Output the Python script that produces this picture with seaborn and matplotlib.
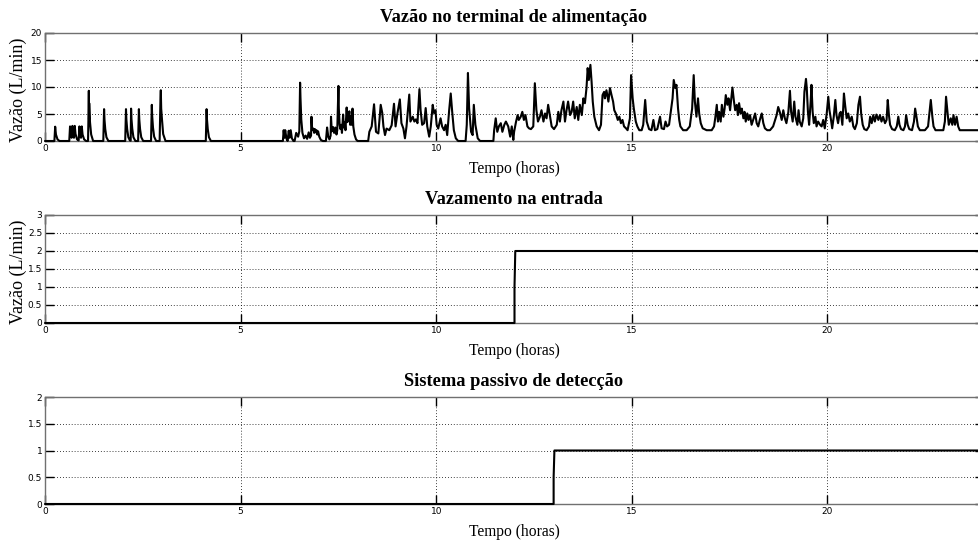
import matplotlib
matplotlib.use("Agg")
import matplotlib.pyplot as plt
from matplotlib.ticker import FormatStrFormatter
import pandas as pd
import seaborn as sns

# ---------------- data ----------------
# Flow at the supply terminal, hours / L/min, split by period of the day
t_night = [0.00, 0.24, 0.26, 0.28, 0.32, 0.37,
           0.62, 0.64, 0.66, 0.68, 0.70, 0.72, 0.74, 0.76, 0.78, 0.82, 0.86, 0.88, 0.90, 0.92, 0.94, 0.96, 1.00, 1.05,
           1.10, 1.115, 1.12, 1.125, 1.13, 1.15, 1.18, 1.23,
           1.49, 1.50, 1.51, 1.52, 1.54, 1.57, 1.62,
           2.05, 2.06, 2.07, 2.08, 2.10, 2.13, 2.17,
           2.19, 2.20, 2.21, 2.23, 2.26, 2.31,
           2.38, 2.39, 2.40, 2.41, 2.43, 2.46, 2.51,
           2.71, 2.72, 2.73, 2.74, 2.76, 2.79, 2.84,
           2.93, 2.94, 2.95, 2.96, 2.97, 2.99, 3.02, 3.08,
           4.11, 4.12, 4.13, 4.14, 4.16, 4.19, 4.24]
q_night = [0, 0, 2.65, 1.2, 0.3, 0,
           0, 2.7, 1.2, 0.6, 2.8, 1.3, 0.6, 2.8, 1.3, 0.3, 0.1, 2.7, 1.2, 0.6, 2.7, 1.2, 0.3, 0,
           0, 6.0, 9.3, 4.0, 7.0, 3.5, 1.2, 0,
           0, 3.0, 5.9, 4.0, 2.2, 0.7, 0,
           0, 3.0, 5.9, 4.0, 2.2, 0.7, 0.1,
           0.05, 6.0, 4.1, 2.3, 0.7, 0,
           0, 3.0, 5.9, 4.0, 2.2, 0.7, 0,
           0, 3.5, 6.7, 4.6, 2.5, 0.8, 0,
           0, 4.0, 7.5, 9.4, 6.0, 4.0, 1.3, 0,
           0, 3.0, 5.9, 4.0, 2.2, 0.7, 0]

t_dawn = [6.08, 6.10, 6.12, 6.14, 6.17, 6.20, 6.23, 6.25, 6.28, 6.31, 6.35,
          6.38, 6.42, 6.47, 6.50, 6.52, 6.53, 6.55, 6.58, 6.62, 6.66, 6.70, 6.74, 6.77,
          6.80, 6.81, 6.83, 6.86, 6.88, 6.90, 6.92, 6.94, 6.96, 6.98, 7.01, 7.05, 7.10,
          7.18, 7.21, 7.24, 7.27, 7.30, 7.31, 7.33, 7.36, 7.39, 7.42, 7.45, 7.47, 7.50, 7.51, 7.53,
          7.55, 7.57, 7.59, 7.62, 7.64, 7.66, 7.68, 7.71, 7.73, 7.75, 7.78, 7.80, 7.82, 7.84, 7.86, 7.88, 7.91, 7.95, 7.99]
q_dawn = [0, 2.0, 0.6, 2.0, 0.5, 0, 1.9, 0.6, 2.0, 0.5, 0,
          0, 1.5, 0.8, 1.8, 10.8, 8.0, 4.0, 1.5, 0.5, 1.0, 0.4, 1.6, 0.6,
          1.0, 4.5, 2.0, 2.3, 1.5, 2.2, 1.6, 2.0, 1.2, 1.8, 0.8, 0.2, 0,
          0, 2.5, 0.8, 0.3, 1.0, 4.5, 1.8, 2.6, 1.5, 2.5, 1.2, 2.0, 10.2, 6.0, 3.0,
          2.2, 3.0, 1.5, 4.9, 2.5, 3.5, 2.0, 6.2, 3.5, 4.0, 5.5, 3.0, 4.6, 3.0, 6.0, 2.7, 1.2, 0.3, 0]

t_morning = [8.26, 8.29, 8.35, 8.41, 8.46, 8.52, 8.58, 8.62, 8.65, 8.69, 8.73, 8.80, 8.86, 8.92, 8.96,
             9.01, 9.07, 9.11, 9.16, 9.20, 9.24, 9.31, 9.34, 9.40, 9.44, 9.48, 9.52, 9.57, 9.60, 9.64,
             9.69, 9.73, 9.77, 9.82, 9.86, 9.91, 9.94, 9.98, 10.01, 10.05, 10.11, 10.15, 10.20, 10.24, 10.28,
             10.33, 10.37, 10.41, 10.45, 10.50, 10.56, 10.75, 10.78, 10.81, 10.84, 10.89, 10.93, 10.96, 11.00, 11.06,
             11.12, 11.46, 11.48, 11.52, 11.56, 11.60, 11.65, 11.69, 11.74, 11.78, 11.84, 11.89]
q_morning = [0, 1.7, 2.7, 6.8, 1.7, 1.4, 6.7, 5.2, 2.7, 1.1, 2.3, 2.0, 2.9, 6.9, 2.7,
             5.2, 7.7, 3.3, 2.3, 0.5, 2.7, 8.6, 3.6, 4.5, 3.6, 4.0, 3.3, 9.6, 5.7, 3.0,
             3.3, 6.1, 2.7, 0.8, 2.7, 6.7, 5.2, 5.7, 3.0, 2.3, 4.2, 2.7, 2.0, 3.0, 1.1,
             5.7, 8.8, 5.2, 2.0, 0.5, 0, 0, 3.0, 12.6, 6.1, 1.7, 1.1, 6.7, 3.0, 0.5,
             0, 0, 2.0, 4.2, 1.7, 2.7, 3.3, 1.7, 3.0, 3.6, 2.7, 0.8]

t_noon = [11.93, 11.97, 11.99, 12.04, 12.08, 12.11, 12.16, 12.20, 12.24, 12.28, 12.33, 12.37, 12.42, 12.48, 12.52,
          12.56, 12.60, 12.65, 12.69, 12.74, 12.78, 12.82, 12.86, 12.91, 12.95, 13.01, 13.08, 13.12, 13.16, 13.20,
          13.25, 13.29, 13.33, 13.37, 13.42, 13.46, 13.50, 13.54, 13.59, 13.63, 13.67, 13.72, 13.76, 13.80, 13.84,
          13.87, 13.90, 13.94, 13.97, 14.00, 14.04, 14.10, 14.16, 14.21, 14.25, 14.29, 14.31, 14.35, 14.40, 14.44,
          14.48, 14.52, 14.55, 14.59, 14.64, 14.68, 14.72, 14.76, 14.80, 14.85, 14.89, 14.95, 14.98, 15.02, 15.05,
          15.10, 15.14, 15.19, 15.25, 15.29, 15.34, 15.38, 15.44, 15.50, 15.55, 15.59, 15.65, 15.72, 15.76]
q_noon = [2.7, 0.2, 1.7, 3.6, 4.8, 3.9, 4.5, 5.4, 3.9, 4.8, 2.7, 2.35, 2.2, 2.7, 10.7,
          5.7, 3.6, 4.5, 5.7, 3.6, 5.1, 4.2, 6.7, 4.5, 2.7, 2.2, 3.0, 5.4, 3.6, 5.7,
          7.3, 3.6, 5.7, 7.3, 4.8, 5.4, 7.3, 4.2, 6.3, 3.9, 6.7, 4.8, 7.9, 7.0, 9.8,
          13.5, 11.3, 14.1, 11.0, 7.3, 4.5, 2.7, 2.0, 3.0, 8.5, 9.1, 7.9, 9.4, 7.3, 9.8,
          8.5, 7.3, 5.7, 5.1, 3.9, 4.5, 3.3, 3.9, 2.7, 2.35, 2.0, 4.2, 12.2, 7.9, 6.0,
          3.6, 2.7, 2.0, 2.0, 3.0, 7.6, 3.6, 2.2, 2.0, 3.9, 2.0, 2.2, 4.5, 2.35]

t_afternoon = [15.82, 15.86, 15.90, 15.95, 16.00, 16.04, 16.07, 16.11, 16.14, 16.18, 16.21, 16.24, 16.31, 16.40, 16.48,
               16.54, 16.58, 16.61, 16.65, 16.69, 16.72, 16.76, 16.81, 16.91, 17.04, 17.10, 17.13, 17.17, 17.20, 17.23,
               17.27, 17.30, 17.34, 17.37, 17.40, 17.44, 17.47, 17.51, 17.54, 17.57, 17.61, 17.64, 17.68, 17.71, 17.74,
               17.78, 17.81, 17.85, 17.88, 17.91, 17.95, 17.98, 18.02, 18.06, 18.10, 18.15, 18.19, 18.23, 18.27, 18.32,
               18.36, 18.40, 18.46, 18.53, 18.61, 18.66, 18.70, 18.74, 18.78, 18.83, 18.87, 18.91, 18.95, 19.00, 19.04,
               19.07, 19.11, 19.15, 19.18, 19.23, 19.26, 19.29, 19.34, 19.38, 19.41, 19.45, 19.47, 19.50, 19.53, 19.57,
               19.59, 19.62, 19.65, 19.69, 19.72, 19.76]
q_afternoon = [2.2, 3.6, 2.7, 3.0, 5.7, 7.9, 11.3, 9.8, 10.4, 6.0, 3.9, 2.7, 2.0, 2.0, 2.7,
               6.0, 12.2, 7.3, 4.5, 7.9, 5.1, 3.3, 2.35, 2.0, 2.0, 2.7, 4.2, 6.7, 3.6, 5.4,
               3.6, 6.7, 4.5, 6.0, 8.5, 6.7, 7.9, 5.7, 7.9, 9.9, 7.3, 5.7, 6.7, 4.8, 7.0,
               5.1, 6.0, 4.2, 5.4, 3.6, 5.1, 3.9, 4.8, 3.0, 3.9, 5.1, 3.3, 2.7, 3.9, 5.1,
               3.3, 2.35, 2.0, 2.0, 2.7, 3.9, 4.8, 6.3, 5.4, 3.9, 5.7, 4.2, 3.3, 5.4, 9.3,
               5.4, 3.6, 7.3, 4.5, 3.0, 5.7, 3.6, 2.7, 4.2, 9.1, 11.5, 9.8, 5.4, 3.0, 7.3,
               10.4, 5.4, 3.3, 4.5, 2.7, 3.6]

t_evening = [19.81, 19.85, 19.89, 19.93, 19.98, 20.02, 20.05, 20.09, 20.12, 20.16, 20.20, 20.23, 20.27, 20.31, 20.34,
             20.38, 20.42, 20.45, 20.49, 20.53, 20.57, 20.62, 20.66, 20.70, 20.75, 20.79, 20.83, 20.86, 20.90, 20.94,
             21.00, 21.06, 21.09, 21.13, 21.17, 21.21, 21.25, 21.30, 21.34, 21.38, 21.42, 21.47, 21.51, 21.54, 21.57,
             21.60, 21.65, 21.72, 21.77, 21.81, 21.84, 21.88, 21.94, 21.98, 22.01, 22.05, 22.09, 22.16, 22.21, 22.24,
             22.28, 22.31, 22.36, 22.49, 22.57, 22.61, 22.64, 22.68, 22.71, 22.76, 22.96, 23.00, 23.03, 23.07, 23.10,
             23.15, 23.19, 23.22, 23.26, 23.30, 23.34, 23.38, 24.00]
q_evening = [3.0, 2.7, 3.9, 2.35, 5.1, 8.2, 5.7, 3.9, 2.35, 4.5, 7.6, 4.8, 3.3, 5.1, 5.4,
             3.0, 8.8, 6.7, 4.2, 5.1, 3.6, 4.5, 2.7, 2.2, 3.3, 6.7, 8.2, 5.1, 3.0, 2.2,
             2.0, 2.7, 4.5, 3.3, 4.8, 3.6, 4.9, 3.9, 4.8, 3.6, 4.5, 3.3, 3.9, 7.6, 4.8,
             3.0, 2.2, 2.0, 2.7, 4.5, 3.0, 2.2, 2.0, 2.7, 4.8, 3.0, 2.2, 2.0, 3.6, 6.0,
             4.2, 2.7, 2.0, 2.0, 2.7, 5.4, 7.6, 4.5, 2.7, 2.0, 2.0, 3.6, 8.2, 5.1, 3.0,
             4.2, 3.0, 4.8, 3.0, 4.5, 2.7, 2.0, 2.0]

# Leak at the inlet (L/min) and passive detection signal
leak_t = [0.0, 12.0, 12.0, 12.02, 24.0]
leak_q = [0.0, 0.0, 1.0, 2.0, 2.0]
detect_t = [0.0, 13.0, 13.0, 13.02, 24.0]
detect_q = [0.0, 0.0, 0.5, 1.0, 1.0]

titles = ["Vazão no terminal de alimentação", "Vazamento na entrada", "Sistema passivo de detecção"]
x_label = "Tempo (horas)"
y_label = "Vazão (L/min)"
x_ticks = [0, 5, 10, 15, 20]
y_ticks_flow = [0, 5, 10, 15, 20]
y_ticks_leak = [0, 0.5, 1, 1.5, 2, 2.5, 3]
y_ticks_detect = [0, 0.5, 1, 1.5, 2]

# ---------------- build tables ----------------
flow_df = pd.DataFrame({
    "t": t_night + t_dawn + t_morning + t_noon + t_afternoon + t_evening,
    "q": q_night + q_dawn + q_morning + q_noon + q_afternoon + q_evening,
})
leak_df = pd.DataFrame({"t": leak_t, "q": leak_q})
detect_df = pd.DataFrame({"t": detect_t, "q": detect_q})

# ---------------- figure ----------------
sns.set_theme(style="white")
plt.rcParams["font.family"] = ["Liberation Serif", "DejaVu Serif"]
plt.rcParams["text.color"] = "black"

W, H = 979, 546
fig = plt.figure(figsize=(W / 100, H / 100), dpi=100)
fig.patch.set_facecolor("white")

panels = [
    dict(df=flow_df, top=33, bottom=141, ylim=(0, 20), yticks=y_ticks_flow, title=titles[0], ylab=True),
    dict(df=leak_df, top=215, bottom=323, ylim=(0, 3), yticks=y_ticks_leak, title=titles[1], ylab=True),
    dict(df=detect_df, top=397, bottom=504, ylim=(0, 2), yticks=y_ticks_detect, title=titles[2], ylab=False),
]

x_left, x_right = 45, 984
x_mid = 514
for p in panels:
    ax = fig.add_axes([x_left / W, 1 - p["bottom"] / H, (x_right - x_left) / W, (p["bottom"] - p["top"]) / H])
    sns.lineplot(data=p["df"], x="t", y="q", ax=ax, color="black", linewidth=1.5,
                 estimator=None, sort=False, clip_on=False, zorder=5)
    ax.set_xlim(0, 24)
    ax.set_ylim(*p["ylim"])
    ax.set_xticks(x_ticks)
    ax.set_yticks(p["yticks"])
    ax.xaxis.set_major_formatter(FormatStrFormatter("%g"))
    ax.yaxis.set_major_formatter(FormatStrFormatter("%g"))
    ax.grid(True, linestyle=(0, (1, 2.5)), color="black", linewidth=0.6)
    ax.tick_params(direction="in", length=6.5, width=1.0, top=True, right=True,
                   bottom=True, left=True, labelsize=6.5, pad=2, colors="black",
                   labelfontfamily="Liberation Sans Narrow")
    for sp in ax.spines.values():
        sp.set_color("#707070")
        sp.set_linewidth(1.0)
    ax.set_xlabel("")
    ax.set_ylabel("")
    fig.text(x_mid / W, 1 - (p["top"] - 11) / H, p["title"], ha="center", va="baseline",
             fontsize=13.2, fontweight="bold", color="black")
    fig.text(x_mid / W, 1 - (p["bottom"] + 28) / H, x_label, ha="center", va="center",
             fontsize=11.2, color="black")
    if p["ylab"]:
        fig.text(18 / W, 1 - ((p["top"] + p["bottom"]) / 2 + 3) / H, y_label, rotation=90,
                 ha="center", va="center", fontsize=13, color="black")

fig.savefig("out.png", dpi=100, facecolor="white")
